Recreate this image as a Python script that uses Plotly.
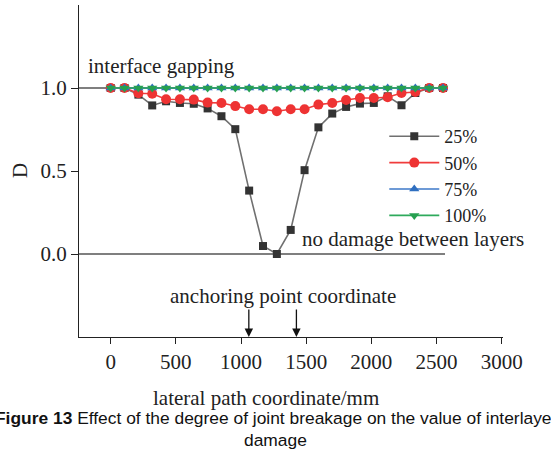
import plotly.graph_objects as go

# lateral path coordinate (mm) of the monitoring points
x_mm = [0, 106.25, 212.5, 318.75, 425, 531.25, 637.5, 743.75, 850, 956.25,
        1062.5, 1168.75, 1275, 1381.25, 1487.5, 1593.75, 1700, 1806.25,
        1912.5, 2018.75, 2125, 2231.25, 2337.5, 2443.75, 2550]

# interlayer damage D for each degree of joint breakage
d_25 = [1.0, 1.0, 0.96, 0.895, 0.92, 0.91, 0.905, 0.877, 0.83, 0.752,
        0.382, 0.048, 0.0, 0.145, 0.505, 0.763, 0.846, 0.886, 0.906, 0.91,
        0.95, 0.896, 0.97, 1.0, 1.0]
d_50 = [1.0, 1.0, 0.968, 0.965, 0.932, 0.932, 0.93, 0.912, 0.91, 0.891,
        0.872, 0.872, 0.86, 0.872, 0.872, 0.9, 0.91, 0.928, 0.94, 0.94,
        0.944, 0.97, 0.976, 1.0, 1.0]
d_75 = [1.0] * 25
d_100 = [1.0] * 25

series_names = ["25%", "50%", "75%", "100%"]
anchor_x = [1060, 1425]

SERIF = "Liberation Serif, Times New Roman, serif"
SANS = "Liberation Sans, Arial, sans-serif"
FS = 21

W, H = 551, 466
ML, MR, MT, MB = 79, 48, 5, 129
PW, PH = W - ML - MR, H - MT - MB


def px_x(px):
    """Horizontal page pixel -> paper fraction."""
    return (px - ML) / PW


def px_y(py):
    """Vertical page pixel (from top) -> paper fraction."""
    return (H - MB - py) / PH


fig = go.Figure()

styles = [
    (d_25, dict(color="#707070", width=1.6), dict(symbol="square", size=8, color="#333333")),
    (d_50, dict(color="#f03c3c", width=1.6), dict(symbol="circle", size=10, color="#ee3333")),
    (d_75, dict(color="#3c78c8", width=1.6), dict(symbol="triangle-up", size=9, color="#2f6fc0")),
    (d_100, dict(color="#2eaa5c", width=1.6), dict(symbol="triangle-down", size=9, color="#26a050")),
]
for name, (ys, line, marker) in zip(series_names, styles):
    fig.add_trace(go.Scatter(x=x_mm, y=ys, mode="lines+markers", name=name,
                             line=line, marker=marker))

# reference lines for D = 1 (gapping) and D = 0 (intact)
for yv in (1.0, 0.0):
    fig.add_shape(type="line", xref="x", yref="y", x0=-243, x1=2565, y0=yv, y1=yv,
                  line=dict(color="#555555", width=1.4), layer="below")

# anchoring point arrows
for ax_ in anchor_x:
    fig.add_annotation(x=ax_, y=-0.5, ax=ax_, ay=-0.325, xref="x", yref="y",
                       axref="x", ayref="y", text="", showarrow=True,
                       arrowhead=2, arrowsize=1.3, arrowwidth=1.3, arrowcolor="#111111")

labels = [
    dict(x=-190, y=1.133, text="interface gapping", xanchor="left"),
    dict(x=1453, y=0.088, text="no damage between layers", xanchor="left"),
    dict(x=1325, y=-0.253, text="anchoring point coordinate", xanchor="center"),
]
for lb in labels:
    fig.add_annotation(x=lb["x"], y=lb["y"], xref="x", yref="y", text=lb["text"],
                       showarrow=False, xanchor=lb["xanchor"], yanchor="middle",
                       font=dict(family=SERIF, size=FS, color="#222222"))

# axis titles
fig.add_annotation(x=px_x(20), y=0.5, xref="paper", yref="y", text="D", textangle=-90,
                   showarrow=False, xanchor="center", yanchor="middle",
                   font=dict(family=SERIF, size=FS, color="#222222"))
fig.add_annotation(x=px_x(266), y=px_y(398), xref="paper", yref="paper",
                   text="lateral path coordinate/mm", showarrow=False,
                   xanchor="center", yanchor="middle",
                   font=dict(family=SERIF, size=FS, color="#222222"))

# caption
fig.add_annotation(x=px_x(276), y=px_y(418), xref="paper", yref="paper",
                   text="<b>Figure 13</b> Effect of the degree of joint breakage on the value of interlayer",
                   showarrow=False, xanchor="center", yanchor="middle",
                   font=dict(family=SANS, size=17.4, color="#111111"))
fig.add_annotation(x=px_x(275), y=px_y(440), xref="paper", yref="paper",
                   text="damage", showarrow=False, xanchor="center", yanchor="middle",
                   font=dict(family=SANS, size=17.4, color="#111111"))

fig.update_layout(
    width=W, height=H,
    margin=dict(l=ML, r=MR, t=MT, b=MB),
    paper_bgcolor="white", plot_bgcolor="white",
    showlegend=True,
    legend=dict(x=0.72, y=px_y(118), xanchor="left", yanchor="top",
                bgcolor="rgba(0,0,0,0)", itemwidth=50, tracegroupgap=0,
                font=dict(family=SERIF, size=18, color="#222222")),
    xaxis=dict(range=[-243, 3010], tickvals=[0, 500, 1000, 1500, 2000, 2500, 3000],
               showgrid=False, zeroline=False, showline=True, linecolor="#222222",
               linewidth=1.3, ticks="outside", ticklen=6, tickcolor="#222222",
               tickfont=dict(family=SERIF, size=FS, color="#222222")),
    yaxis=dict(range=[-0.5, 1.5], tickvals=[0.0, 0.5, 1.0], ticktext=["0.0", "0.5", "1.0"],
               showgrid=False, zeroline=False, showline=True, linecolor="#222222",
               linewidth=1.3, ticks="outside", ticklen=7, tickcolor="#222222",
               tickfont=dict(family=SERIF, size=FS, color="#222222")),
)

fig.write_html("out.html")
